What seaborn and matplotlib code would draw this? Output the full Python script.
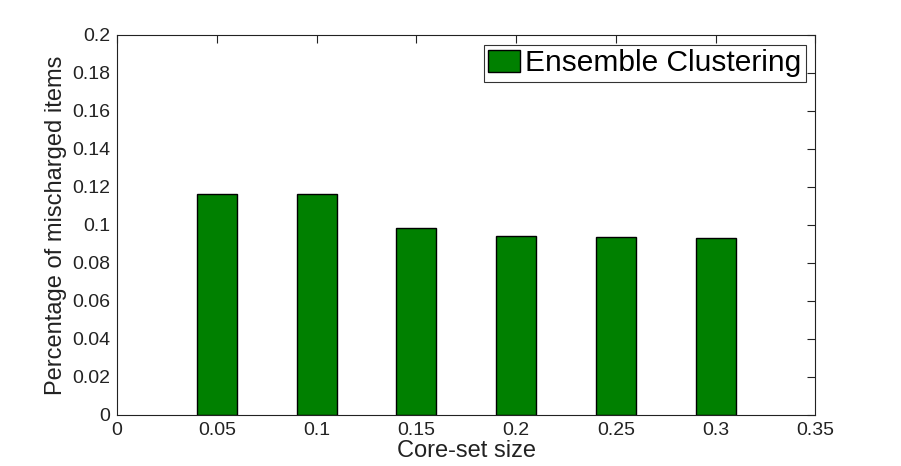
import matplotlib

matplotlib.use("Agg")
import matplotlib.pyplot as plt
import pandas as pd
import seaborn as sns

CORESET_SIZES = [0.05, 0.10, 0.15, 0.20, 0.25, 0.30]
MISCHARGED = [0.116, 0.116, 0.0985, 0.094, 0.0935, 0.093]
X_TICKS = [0, 0.05, 0.1, 0.15, 0.2, 0.25, 0.3, 0.35]
X_TICK_LABELS = ["0", "0.05", "0.1", "0.15", "0.2", "0.25", "0.3", "0.35"]
Y_TICKS = [0, 0.02, 0.04, 0.06, 0.08, 0.1, 0.12, 0.14, 0.16, 0.18, 0.2]
Y_TICK_LABELS = ["0", "0.02", "0.04", "0.06", "0.08", "0.1", "0.12", "0.14", "0.16", "0.18", "0.2"]
SERIES_NAME = "Ensemble Clustering"

sns.set_theme(style="white")
plt.rcParams["font.family"] = ["Liberation Sans", "DejaVu Sans"]

df = pd.DataFrame({"size": CORESET_SIZES, "value": MISCHARGED})

fig = plt.figure(figsize=(9.01, 4.66), dpi=100)
ax = fig.add_axes([0.13, 0.11, 0.775, 0.815])

sns.barplot(
    data=df,
    x="size",
    y="value",
    native_scale=True,
    width=0.4,
    color="#008000",
    saturation=1,
    edgecolor="black",
    linewidth=1,
    ax=ax,
)

ax.set_xlim(0, 0.35)
ax.set_ylim(0, 0.2)
ax.set_xticks(X_TICKS, X_TICK_LABELS)
ax.set_yticks(Y_TICKS, Y_TICK_LABELS)
ax.tick_params(
    direction="in",
    length=6,
    width=0.8,
    colors="#222222",
    labelsize=14,
    top=True,
    right=True,
    labeltop=False,
    labelright=False,
)
ax.tick_params(axis="x", pad=5)
ax.tick_params(axis="y", pad=5)
for spine in ax.spines.values():
    spine.set_visible(True)
    spine.set_color("#222222")
    spine.set_linewidth(0.8)

ax.set_xlabel("Core-set size", fontsize=17, color="#222222", labelpad=1)
ax.set_ylabel("Percentage of mischarged items", fontsize=17, color="#222222", labelpad=4)

handle = ax.containers[0].patches[0]
leg = ax.legend(
    [handle],
    [SERIES_NAME],
    loc="upper right",
    fontsize=21.5,
    frameon=True,
    fancybox=False,
    edgecolor="black",
    handlelength=1.05,
    handleheight=0.75,
    handletextpad=0.17,
    borderpad=0.15,
    borderaxespad=0.33,
)
leg.get_frame().set_linewidth(0.8)
for text in leg.get_texts():
    text.set_color("black")

fig.savefig("out.png", dpi=100, facecolor="white")
